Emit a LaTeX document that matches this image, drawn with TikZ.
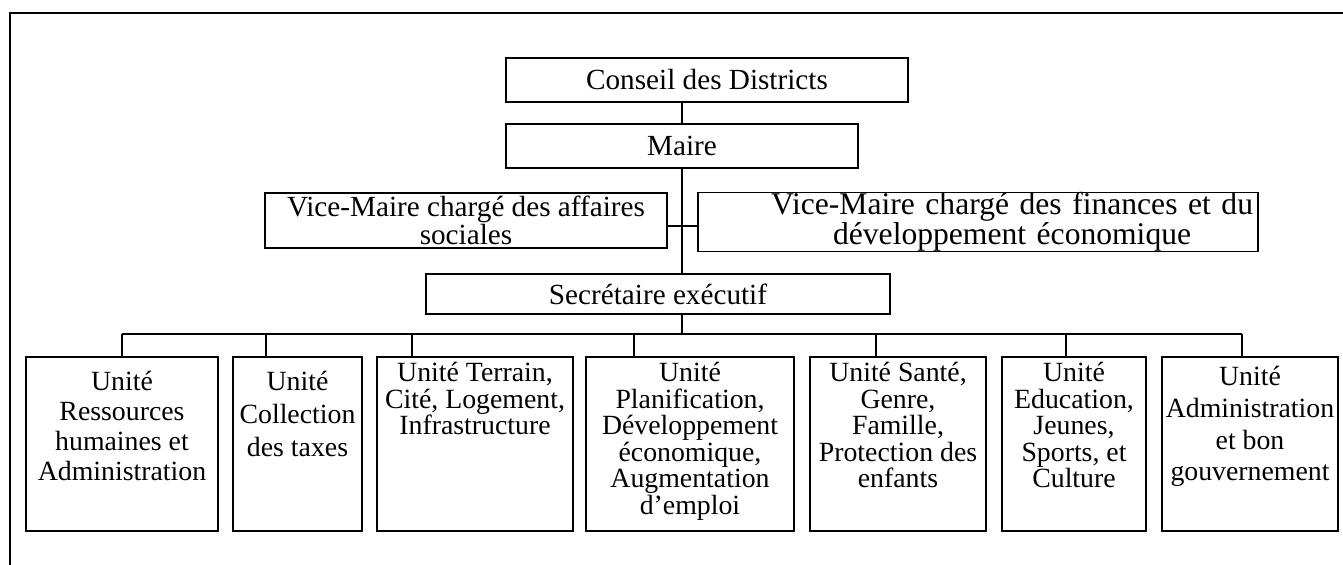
\documentclass[tikz,border=0pt]{standalone}
\usepackage{fontspec}
\setmainfont{Liberation Serif}

\begin{document}
\begin{tikzpicture}[x=0.5pt, y=-0.5pt,
    box/.style={draw, line width=0.8pt, inner sep=0pt, align=center,
        font=\fontsize{14.6}{12}\selectfont},
    unit/.style={draw, line width=0.8pt, inner sep=0pt, minimum height=87pt},
    utext/.style={anchor=north, align=center, inner sep=0pt,
        font=\fontsize{13.9}{#1}\selectfont},
    link/.style={line width=0.6pt}]
    \useasboundingbox (0,0) rectangle (1343,565);
    \draw[line width=1pt] (10,565) -- (10,13) -- (1343,13);

    % top of the chart
    \node[box, minimum width=201pt, minimum height=22pt] (conseil) at (707,80) {Conseil des Districts};
    \node[box, minimum width=176pt, minimum height=22pt] (maire) at (682,146) {Maire};
    \node[box, minimum width=201pt, minimum height=27.5pt] (vmsoc) at (466,220.5)
        {Vice-Maire chargé des affaires\\ sociales};
    \node[box, minimum width=280pt, minimum height=28pt, text width=275pt, align=right,
        font=\fontsize{15.8}{12}\selectfont] (vmfin) at (978,222)
        {\begin{tabular}{@{}c@{}}Vice-Maire chargé des finances et du\\ développement économique\end{tabular}};
    \node[box, minimum width=232pt, minimum height=20pt] (sec) at (658,294) {Secrétaire exécutif};

    \coordinate (vm) at (682,226);
    \coordinate (bus) at (682,334);
    \draw[link] (maire.north) -- (maire.north |- conseil.south);
    \draw[link] (maire.south) -- (maire.south |- sec.north);
    \draw[link] (vmsoc.east |- vm) -- (vmfin.west |- vm);
    \draw[link] (sec.south -| maire) -- (bus);

    % units
    \foreach \n/\x/\w/\s in {1/122/96/0, 2/297.5/64.5/-15.75, 3/475/98/-31.5, 4/690/104/-28,
        5/898/88/-11, 6/1074/72/-4, 7/1250/88/-4}{
        \node[unit, minimum width=\w pt] (u\n) at (\x,444) {};
        \coordinate (d\n) at ([xshift=\s pt]u\n.north);
        \draw[link] (d\n) -- (d\n |- bus);
    }
    \draw[link] (d1 |- bus) -- (d7 |- bus);

    \node[utext=15pt] (t1) at (122,371) {Unité\\ Ressources\\ humaines et\\ Administration};
    \node[utext=16.5pt] (t2) at (297.5,371) {Unité\\ Collection\\ des taxes};
    \node[utext=13.25pt] (t3) at (475,362) {Unité Terrain,\\ Cité, Logement,\\ Infrastructure};
    \node[utext=13.25pt] (t4) at (690,362) {Unité\\ Planification,\\ Développement\\ économique,\\ Augmentation\\ d’emploi};
    \node[utext=13.25pt] (t5) at (898,362) {Unité Santé,\\ Genre,\\ Famille,\\ Protection des\\ enfants};
    \node[utext=13.25pt] (t6) at (1074,362) {Unité\\ Education,\\ Jeunes,\\ Sports, et\\ Culture};
    \node[utext=15.85pt] (t7) at (1250,366) {Unité\\ Administration\\ et bon\\ gouvernement};
\end{tikzpicture}
\end{document}
